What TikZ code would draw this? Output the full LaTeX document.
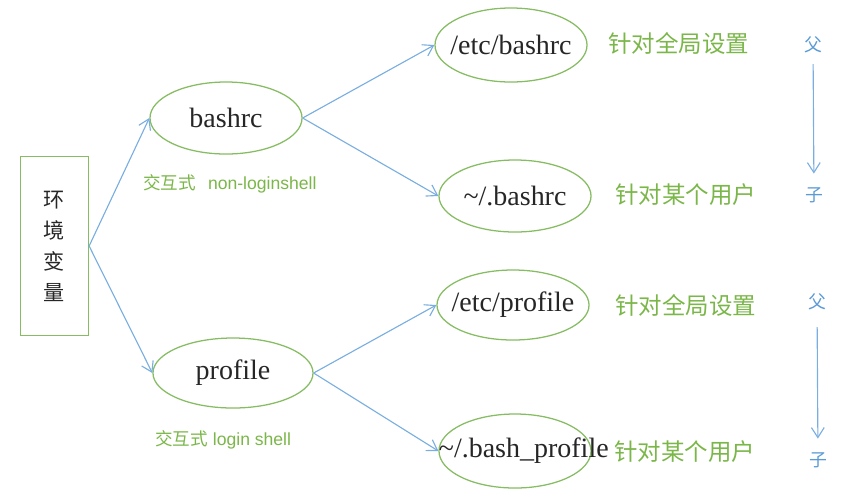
\documentclass[tikz,border=0pt]{standalone}
\usepackage{fontspec}
\setmainfont{Liberation Serif}
\setsansfont{Liberation Sans}
\newfontfamily\cjk{Noto Sans CJK SC}
\usetikzlibrary{arrows.meta,positioning,shapes.geometric}
\definecolor{envgreen}{HTML}{86BC62}
\definecolor{labgreen}{HTML}{7AB648}
\definecolor{envblue}{HTML}{7AAEE0}
\definecolor{kinblue}{HTML}{5B9BD5}

\begin{document}
\begin{tikzpicture}[
        x=0.025cm, y=-0.025cm,
        fileshape/.style={
          ellipse,
          draw=envgreen,
          line width=0.9pt,
          inner sep=0pt,
          minimum width=3.8cm,
          minimum height=1.8cm
        },
        file/.style={
          fileshape,
          label={[filetext]center:#1}
        },
        filetext/.style={
          inner sep=0pt,
          text=black!85,
          font=\fontsize{19.9pt}{24pt}\selectfont
        },
        scopelabel/.style={
          text=labgreen,
          font=\cjk\fontsize{16.7pt}{20pt}\selectfont,
          inner sep=0pt
        },
        modelabel/.style={
          text=labgreen,
          font=\sffamily\fontsize{12.5pt}{15pt}\selectfont,
          inner sep=0pt
        },
        kin/.style={
          text=kinblue,
          font=\cjk\fontsize{12.7pt}{15pt}\selectfont
        },
        arrow/.style={
          -{Straight Barb[length=2.5mm,width=3.2mm]},
          line width=0.8pt,
          envblue
        }
      ]
      \useasboundingbox (0,0) rectangle (845,489);

      % left box
      \node[draw=envgreen, line width=0.9pt, minimum width=1.7cm, minimum height=4.475cm,
            align=center, font=\cjk\fontsize{15pt}{22pt}\selectfont, text=black!85]
            (env) at (54.5,246) {环\\境\\变\\量};

      % second level
      \node[file=bashrc] (bashrc) at (226,118) {};
      \node[file=profile, minimum width=4cm, minimum height=1.75cm] (profile) at (233,373) {};
      \node[modelabel, anchor=west] (nonlogin) at (143,184) {{\cjk 交互式}\hspace{0.3cm}non-loginshell};
      \node[modelabel, anchor=west] (login) at (155,440) {{\cjk 交互式} login shell};

      % third level
      \node[file=/etc/bashrc, minimum height=1.85cm] (etcbashrc) at (511,45) {};
      \node[file=\textasciitilde/.bashrc, minimum height=1.8cm] (userbashrc) at (515,196) {};
      \node[file=/etc/profile, minimum height=1.75cm] (etcprofile) at (513,305) {};
      \node[fileshape, minimum height=1.85cm,
            label={[filetext, xshift=0.22cm]center:\textasciitilde/.bash\_profile}] (userprofile) at (515,451) {};

      % scope labels
      \node[scopelabel, anchor=west] (global1) at (608,43) {针对全局设置};
      \node[scopelabel, anchor=west] (user1) at (615,195) {针对某个用户};
      \node[scopelabel, anchor=west] (global2) at (615,305) {针对全局设置};
      \node[scopelabel, anchor=west] (user2) at (614,452) {针对某个用户};

      % parent / child
      \node[kin] (fu1) at (813,45) {父};
      \node[kin] (zi1) at (814,195) {子};
      \node[kin] (fu2) at (817,302) {父};
      \node[kin] (zi2) at (818,460) {子};

      \draw[arrow] (env.east) -- (bashrc.west);
      \draw[arrow] (env.east) -- (profile.west);
      \draw[arrow] (bashrc.east) -- (etcbashrc.west);
      \draw[arrow] (bashrc.east) -- (userbashrc.west);
      \draw[arrow] (profile.east) -- (etcprofile.west);
      \draw[arrow] (profile.east) -- (userprofile.west);
      \draw[arrow, shorten <=1.5mm, shorten >=2.2mm] (fu1) -- (zi1);
      \draw[arrow, shorten <=3mm, shorten >=2.2mm] (fu2) -- (zi2);

      \end{tikzpicture}
\end{document}
